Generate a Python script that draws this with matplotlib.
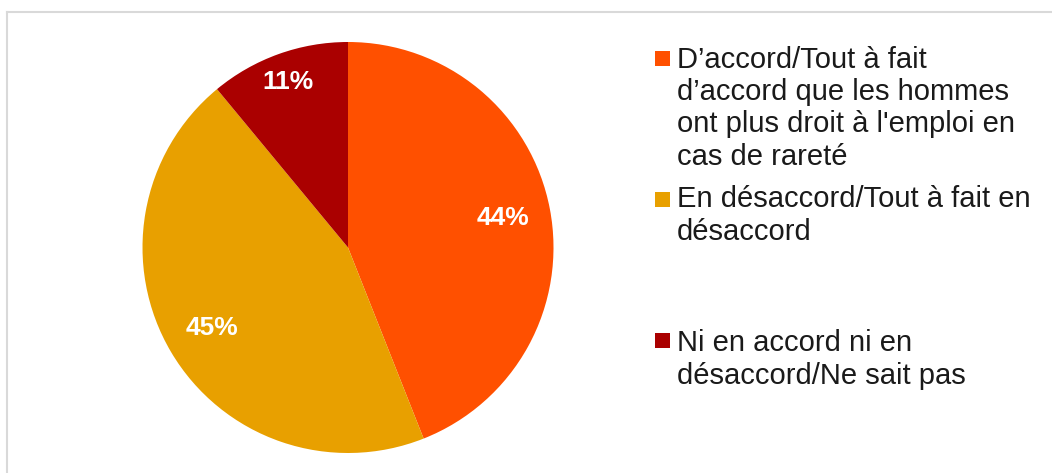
import numpy as np
import matplotlib
matplotlib.use("Agg")
import matplotlib.pyplot as plt
from matplotlib.patches import Rectangle
from matplotlib.lines import Line2D

# Data
categories = ["D\u2019accord/Tout à fait d\u2019accord que les hommes ont plus droit à l'emploi en cas de rareté",
              "En désaccord/Tout à fait en désaccord",
              "Ni en accord ni en désaccord/Ne sait pas"]
legend_lines = [["D\u2019accord/Tout à fait", "d\u2019accord que les hommes",
                 "ont plus droit à l'emploi en", "cas de rareté"],
                ["En désaccord/Tout à fait en", "désaccord"],
                ["Ni en accord ni en", "désaccord/Ne sait pas"]]
values = [44, 45, 11]
colors = ["#FF5000", "#E8A000", "#AA0000"]

W, H = 1052, 473
fig = plt.figure(figsize=(W / 100, H / 100), dpi=100)
plt.rcParams['font.family'] = ['Liberation Sans', 'DejaVu Sans']

# Pie axes (pixel layout)
cx, cy, r = 348, 247.5, 205.5
ax = fig.add_axes([(cx - r) / W, (H - cy - r) / H, 2 * r / W, 2 * r / H])
wedges, texts, autotexts = ax.pie(values, colors=colors, startangle=90, counterclock=False,
                                  autopct='%1.0f%%', pctdistance=0.77,
                                  wedgeprops=dict(linewidth=0),
                                  textprops=dict(color='white', fontsize=19, fontweight='bold'))
ax.set_xlim(-1, 1)
ax.set_ylim(-1, 1)
ax.set_aspect('equal')
ax.axis('off')

# push the small slice label further out
w = wedges[2]
mid = np.deg2rad((w.theta1 + w.theta2) / 2)
autotexts[2].set_position((0.855 * np.cos(mid), 0.855 * np.sin(mid)))

# Legend drawn by hand
text_x = 677
marker_centers = [58.5, 199.5, 340.5]
first_baselines = [67.5, 207, 351]
line_step = 32.5
for i, lines in enumerate(legend_lines):
    m = 15
    fig.patches.append(Rectangle(((655) / W, (H - marker_centers[i] - m / 2) / H), m / W, m / H,
                                 transform=fig.transFigure, facecolor=colors[i], edgecolor='none'))
    for j, line in enumerate(lines):
        y = first_baselines[i] + j * line_step
        fig.text(text_x / W, (H - y) / H, line, fontsize=21, color='#1a1a1a',
                 ha='left', va='baseline')

# light frame on top and left
frame = '#D9D9D9'
fig.lines.append(Line2D([7 / W, 7 / W], [0, (H - 12) / H], transform=fig.transFigure,
                        color=frame, linewidth=1.5))
fig.lines.append(Line2D([7 / W, 1], [(H - 12) / H, (H - 12) / H], transform=fig.transFigure,
                        color=frame, linewidth=1.5))

fig.savefig("out.png", dpi=100)
